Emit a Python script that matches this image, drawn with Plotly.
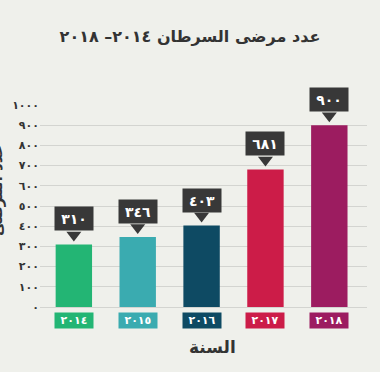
import plotly.graph_objects as go

years = ["٢٠١٤", "٢٠١٥", "٢٠١٦", "٢٠١٧", "٢٠١٨"]
values = [310, 346, 403, 681, 900]
value_labels = ["٣١٠", "٣٤٦", "٤٠٣", "٦٨١", "٩٠٠"]
colors = ["#23b574", "#3aabb0", "#0e4a63", "#cc1c48", "#9c1c60"]
tick_vals = [0, 100, 200, 300, 400, 500, 600, 700, 800, 900, 1000]
tick_text = ["٠", "١٠٠", "٢٠٠", "٣٠٠", "٤٠٠", "٥٠٠", "٦٠٠", "٧٠٠", "٨٠٠", "٩٠٠", "١٠٠٠"]

title_text = "عدد مرضى السرطان ٢٠١٤– ٢٠١٨"
x_title = "السنة"
y_title = "عدد المرضى"

FONT = "DejaVu Sans"
BG = "#eff0eb"
CALLOUT = "#383838"

xs = list(range(len(years)))

fig = go.Figure()
fig.add_trace(go.Bar(
    x=xs, y=values, width=0.57,
    marker=dict(color=colors, line=dict(width=0)),
    hoverinfo="skip", showlegend=False,
))
# pointer triangles of the value callouts (placed just above each bar)
tri_offset = 47
fig.add_trace(go.Scatter(
    x=xs, y=[v + tri_offset for v in values], mode="markers",
    marker=dict(symbol="triangle-down", size=13, color=CALLOUT, line=dict(width=0)),
    cliponaxis=False, hoverinfo="skip", showlegend=False,
))

annotations = []
for i, (v, lab, yr, c) in enumerate(zip(values, value_labels, years, colors)):
    annotations.append(dict(
        x=i, y=v, xref="x", yref="y", yanchor="bottom", yshift=13,
        text="<b>%s</b>" % lab, showarrow=False,
        bgcolor=CALLOUT, width=36, height=21,
        font=dict(family=FONT, size=14, color="white"),
    ))
    annotations.append(dict(
        x=i, y=0, xref="x", yref="y", yanchor="top", yshift=-5,
        text="<b>%s</b>" % yr, showarrow=False,
        bgcolor=c, width=36, height=13,
        font=dict(family=FONT, size=11, color="white"),
    ))

annotations.append(dict(
    x=0.526, y=-0.2, xref="paper", yref="paper",
    text="<b>%s</b>" % x_title, showarrow=False,
    xanchor="center", yanchor="middle",
    font=dict(family=FONT, size=17, color="#333333"),
))
annotations.append(dict(
    x=-0.131, y=0.58, xref="paper", yref="paper",
    text="<b>%s</b>" % y_title, showarrow=False, textangle=-90,
    xanchor="center", yanchor="middle",
    font=dict(family=FONT, size=15, color="#333333"),
))

fig.update_layout(
    width=380, height=372,
    paper_bgcolor=BG, plot_bgcolor=BG,
    margin=dict(l=40, r=13, t=105, b=65),
    title=dict(text="<b>%s</b>" % title_text, x=0.5, xref="container",
               y=1 - 36 / 372, yref="container", xanchor="center", yanchor="middle",
               font=dict(family=FONT, size=16, color="#333333")),
    xaxis=dict(range=[-0.53, 4.59], showticklabels=False, showgrid=False,
               zeroline=False, showline=False, fixedrange=True),
    yaxis=dict(range=[0, 1000], tickvals=tick_vals, ticktext=tick_text,
               showgrid=True, gridcolor="#d3d4d0", gridwidth=1,
               zeroline=True, zerolinecolor="#d3d4d0", zerolinewidth=1,
               tickfont=dict(family=FONT, size=11, color="#333333", weight="bold"),
               ticks="", fixedrange=True),
    annotations=annotations,
    bargap=0.42,
)

fig.write_html("out.html")
